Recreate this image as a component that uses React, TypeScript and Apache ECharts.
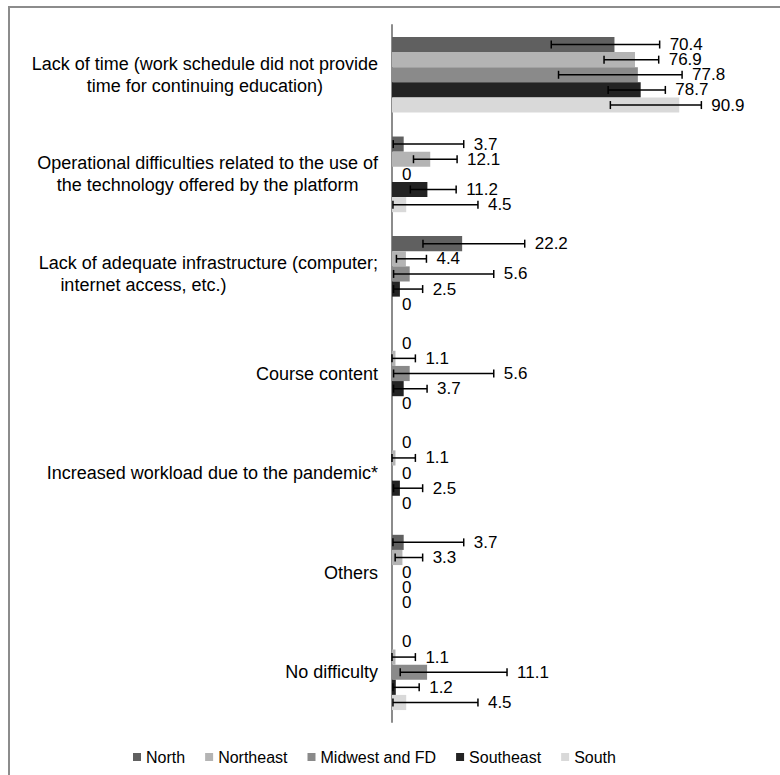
import React, { useEffect, useRef } from "react";
import * as echarts from "echarts";

const categories = [
  "Lack of time (work schedule did not provide\ntime for continuing education)",
  "Operational difficulties related to the use of\nthe technology offered by the platform",
  "Lack of adequate infrastructure (computer;\ninternet access, etc.)",
  "Course content",
  "Increased workload due to the pandemic*",
  "Others",
  "No difficulty",
];

const regions = ["North", "Northeast", "Midwest and FD", "Southeast", "South"];
const colors = ["#606060", "#b4b4b4", "#8a8a8a", "#232323", "#d9d9d9"];

const north = [70.4, 3.7, 22.2, 0, 0, 3.7, 0];
const northeast = [76.9, 12.1, 4.4, 1.1, 1.1, 3.3, 1.1];
const midwest = [77.8, 0, 5.6, 5.6, 0, 0, 11.1];
const southeast = [78.7, 11.2, 2.5, 3.7, 2.5, 0, 1.2];
const south = [90.9, 4.5, 0, 0, 0, 0, 4.5];

const northLow = [50.4, 0.4, 9.8, null, null, 0.3, null];
const northHigh = [84.7, 22.7, 42.0, null, null, 22.7, null];
const northeastLow = [67.1, 6.8, 1.4, 0, 0, 1.0, 0];
const northeastHigh = [84.4, 20.6, 10.9, 7.4, 7.4, 9.7, 7.4];
const midwestLow = [52.7, null, 0.5, 0.5, null, null, 2.6];
const midwestHigh = [91.8, null, 32.2, 32.2, null, null, 36.4];
const southeastLow = [68.4, 5.8, 0.5, 0.5, 0.5, null, 0.3];
const southeastHigh = [86.5, 20.3, 9.7, 11.1, 9.7, null, 8.6];
const southLow = [69.1, 0.3, null, null, null, null, 0.3];
const southHigh = [97.9, 27.2, null, null, null, null, 27.2];

const values = [north, northeast, midwest, southeast, south];
const lows = [northLow, northeastLow, midwestLow, southeastLow, southLow];
const highs = [northHigh, northeastHigh, midwestHigh, southeastHigh, southHigh];

const FONT = '"Liberation Sans", Arial, sans-serif';
const CAT_GAP = 0.24;

export default function App() {
  const ref = useRef<HTMLDivElement>(null);
  useEffect(() => {
    document.body.style.margin = "0";
    const chart = echarts.init(ref.current!, null, { renderer: "svg" });

    const errData: any[] = [];
    regions.forEach((_, si) => {
      categories.forEach((_, ci) => {
        const lo = lows[si][ci];
        const hi = highs[si][ci];
        errData.push([ci, values[si][ci], lo == null ? -1 : lo, hi == null ? -1 : hi, si]);
      });
    });

    const barSeries = regions.map((name, si) => ({
      name,
      type: "bar",
      data: values[si],
      barGap: "0%",
      barCategoryGap: CAT_GAP * 100 + "%",
      itemStyle: { color: colors[si] },
      emphasis: { disabled: true },
    }));

    chart.setOption({
      animation: false,
      graphic: [
        {
          type: "rect",
          shape: { x: 9, y: 7, width: 900, height: 900 },
          style: { fill: "none", stroke: "#8c8c8c", lineWidth: 2 },
          silent: true,
        },
      ],
      legend: {
        data: regions,
        left: 128,
        top: 744,
        itemWidth: 8,
        itemHeight: 8,
        itemGap: 20,
        icon: "rect",
        textStyle: { fontSize: 16, color: "#000", fontFamily: FONT },
      },
      grid: { left: 392, top: 25, width: 316, height: 697 },
      xAxis: {
        type: "value",
        min: 0,
        max: 100,
        show: false,
      },
      yAxis: {
        type: "category",
        inverse: true,
        data: categories,
        axisLine: { lineStyle: { color: "#8c8c8c", width: 2 } },
        axisTick: { length: 5, lineStyle: { color: "#8c8c8c", width: 1.5 } },
        axisLabel: {
          margin: 14,
          align: "right",
          fontSize: 18,
          color: "#000",
          fontFamily: FONT,
          formatter: (v: string) => {
            const lines = v.split("\n");
            if (lines.length === 1) return "{c|" + v + "}";
            if (v.indexOf("internet access") >= 0) return "{c|" + lines[0] + "}\n{d|" + lines[1] + "}";
            return lines.map((l) => "{c|" + l + "}").join("\n");
          },
          rich: {
            c: { align: "center", fontSize: 18, lineHeight: 22, fontFamily: FONT, color: "#000" },
            d: { align: "center", fontSize: 18, lineHeight: 22, fontFamily: FONT, color: "#000", padding: [0, 130, 0, 0] },
          },
        },
      },
      series: [
        ...barSeries,
        {
          type: "custom",
          silent: true,
          z: 5,
          encode: { y: 0, x: 1 },
          data: errData,
          renderItem: (params: any, api: any) => {
            const ci = api.value(0);
            const val = api.value(1);
            const lo = api.value(2);
            const hi = api.value(3);
            const si = api.value(4);
            const band = api.size([0, 1])[1];
            const groupW = band * (1 - CAT_GAP);
            const bw = groupW / regions.length;
            const base = api.coord([0, ci]);
            const cy = base[1] - groupW / 2 + bw * si + bw / 2;
            const children: any[] = [];
            let endVal = val;
            if (hi >= 0 && lo >= 0) {
              const x1 = api.coord([lo, ci])[0];
              const x2 = api.coord([hi, ci])[0];
              endVal = Math.max(val, hi);
              const st = { stroke: "#000", lineWidth: 1.5 };
              children.push({ type: "line", shape: { x1, y1: cy, x2, y2: cy }, style: st });
              children.push({ type: "line", shape: { x1, y1: cy - 4, x2: x1, y2: cy + 4 }, style: st });
              children.push({ type: "line", shape: { x1: x2, y1: cy - 4, x2, y2: cy + 4 }, style: st });
            }
            const tx = api.coord([endVal, ci])[0] + 10;
            children.push({
              type: "text",
              style: {
                text: String(val),
                x: tx,
                y: cy,
                align: "left",
                verticalAlign: "middle",
                fill: "#000",
                fontSize: 17,
                fontFamily: FONT,
              },
            });
            return { type: "group", children };
          },
        },
      ],
    });
    return () => chart.dispose();
  }, []);
  return <div ref={ref} style={{ width: 780, height: 775 }} />;
}
